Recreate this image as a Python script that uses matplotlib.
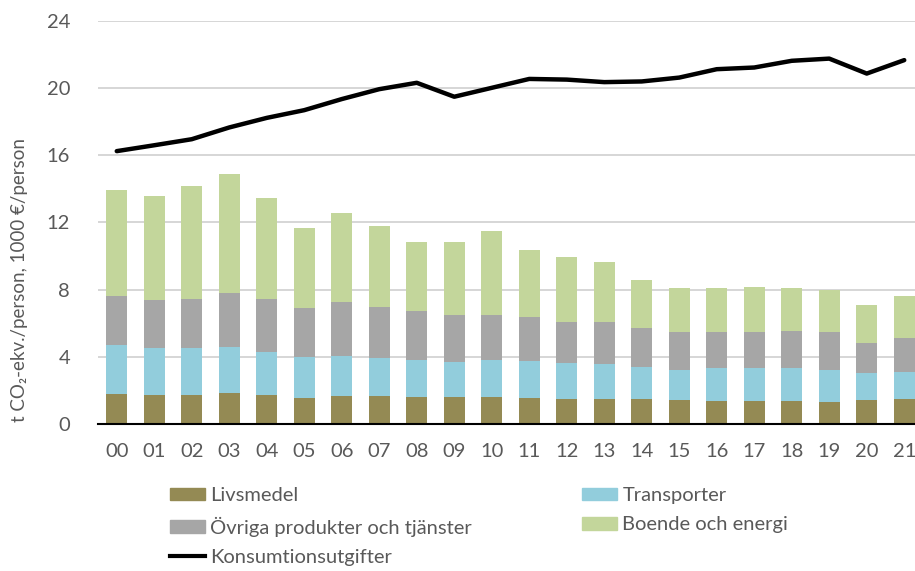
import matplotlib
matplotlib.use("Agg")
import matplotlib.pyplot as plt
import numpy as np
from matplotlib.patches import Patch
from matplotlib.lines import Line2D

years = ["00","01","02","03","04","05","06","07","08","09","10",
         "11","12","13","14","15","16","17","18","19","20","21"]
livsmedel = [1.79,1.73,1.73,1.83,1.73,1.57,1.67,1.67,1.61,1.61,1.61,
             1.57,1.51,1.51,1.47,1.42,1.37,1.37,1.37,1.31,1.43,1.47]
transporter_top = [4.68,4.54,4.54,4.58,4.30,3.99,4.05,3.93,3.81,3.71,3.81,
                   3.75,3.63,3.59,3.37,3.21,3.31,3.31,3.31,3.21,3.05,3.11]
ovriga_top = [7.62,7.40,7.46,7.78,7.46,6.92,7.26,6.96,6.73,6.49,6.49,
              6.39,6.07,6.07,5.71,5.46,5.50,5.50,5.56,5.45,4.84,5.12]
total = [13.95,13.55,14.20,14.90,13.45,11.70,12.56,11.79,10.85,10.85,11.49,
         10.38,9.94,9.64,8.57,8.10,8.10,8.15,8.10,7.98,7.08,7.62]
konsumtion = [16.25,16.6,16.96,17.66,18.23,18.69,19.35,19.94,20.32,19.49,20.02,
              20.55,20.51,20.36,20.40,20.63,21.13,21.23,21.63,21.76,20.87,21.67]

transporter = list(np.array(transporter_top) - np.array(livsmedel))
ovriga = list(np.array(ovriga_top) - np.array(transporter_top))
boende = list(np.array(total) - np.array(ovriga_top))

labels = ["Livsmedel", "Transporter", "Övriga produkter och tjänster",
          "Boende och energi", "Konsumtionsutgifter"]
colors = ["#948A54", "#92CDDC", "#A6A6A6", "#C3D69B"]
text_color = "#595959"
plt.rcParams['font.family'] = ['Lato', 'DejaVu Sans']

W, H = 915, 571
fig = plt.figure(figsize=(W/100, H/100), dpi=100)
# axes in pixel coords: left 98, right 923, top 21, bottom 424
ax = fig.add_axes([98/W, 1-424/H, (923-98)/W, (424-21)/H])
x = np.arange(len(years))
bw = 0.57
bottom = np.zeros(len(years))
for vals, c in zip([livsmedel, transporter, ovriga, boende], colors):
    ax.bar(x, vals, bw, bottom=bottom, color=c, zorder=2)
    bottom += np.array(vals)
ax.plot(x, konsumtion, color="black", lw=3.2, zorder=3, solid_capstyle='round')

ax.set_xlim(-0.5, len(years)-0.5)
ax.set_ylim(0, 24)
ax.set_yticks([0,4,8,12,16,20,24])
ax.set_xticks(x)
ax.set_xticklabels(years)
ax.yaxis.grid(True, color="#D0D0D0", lw=1.2, zorder=0)
ax.set_axisbelow(True)
for s in ["top", "right", "left"]:
    ax.spines[s].set_visible(False)
ax.spines["bottom"].set_color("black")
ax.spines["bottom"].set_linewidth(1.5)
ax.tick_params(axis='both', length=0, labelsize=14.5, colors=text_color)
ax.tick_params(axis='y', pad=20)
ax.tick_params(axis='x', pad=14)
ax.set_ylabel("t CO₂-ekv./person, 1000 €/person", fontsize=13.5, color=text_color)
ax.yaxis.set_label_coords((28-98)/825, (424-280)/403)

h = [Patch(color=c) for c in colors] + [Line2D([0],[0], color="black", lw=3)]
leg_kw = dict(frameon=False, fontsize=14.5, labelcolor=text_color, handlelength=1.75,
              handleheight=0.6, handletextpad=0.25, labelspacing=0.62, borderpad=0, borderaxespad=0)
fig.legend([h[0], h[2], h[4]], [labels[0], labels[2], labels[4]], loc="upper left",
           bbox_to_anchor=(170/W, 1-487/H), **leg_kw)
fig.legend([h[1], h[3]], [labels[1], labels[3]], loc="upper left",
           bbox_to_anchor=(582/W, 1-487/H), **leg_kw)

fig.savefig("out.png", dpi=100)
